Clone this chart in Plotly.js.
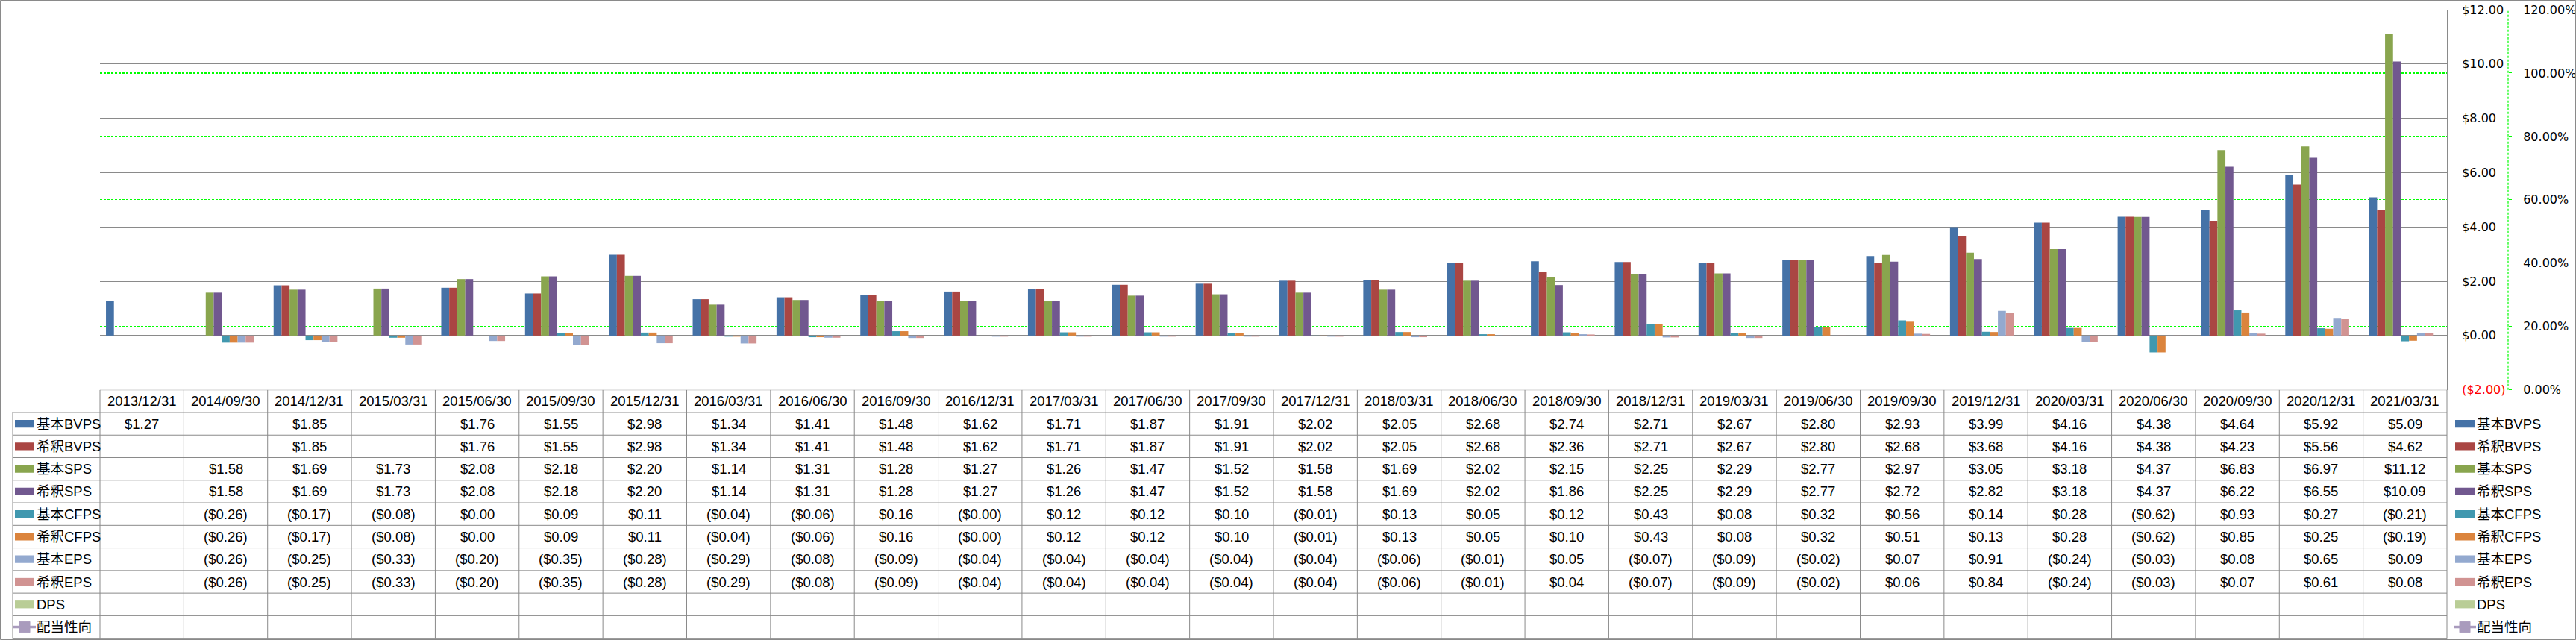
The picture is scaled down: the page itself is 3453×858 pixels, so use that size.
<!DOCTYPE html>
<html><head><meta charset="utf-8">
<script src="https://cdn.plot.ly/plotly-3.0.1.min.js"></script>
<style>html,body{margin:0;padding:0;background:#fff;overflow:hidden}#chart{width:3453px;height:858px}</style>
</head><body><div id="chart"></div>
<script>
// ---------------- data ----------------
const dates = ['2013/12/31','2014/09/30','2014/12/31','2015/03/31','2015/06/30','2015/09/30','2015/12/31','2016/03/31','2016/06/30','2016/09/30','2016/12/31','2017/03/31','2017/06/30','2017/09/30','2017/12/31','2018/03/31','2018/06/30','2018/09/30','2018/12/31','2019/03/31','2019/06/30','2019/09/30','2019/12/31','2020/03/31','2020/06/30','2020/09/30','2020/12/31','2021/03/31'];
const bvpsBasic   = [1.27,null,1.85,null,1.76,1.55,2.98,1.34,1.41,1.48,1.62,1.71,1.87,1.91,2.02,2.05,2.68,2.74,2.71,2.67,2.80,2.93,3.99,4.16,4.38,4.64,5.92,5.09];
const bvpsDiluted = [null,null,1.85,null,1.76,1.55,2.98,1.34,1.41,1.48,1.62,1.71,1.87,1.91,2.02,2.05,2.68,2.36,2.71,2.67,2.80,2.68,3.68,4.16,4.38,4.23,5.56,4.62];
const spsBasic    = [null,1.58,1.69,1.73,2.08,2.18,2.20,1.14,1.31,1.28,1.27,1.26,1.47,1.52,1.58,1.69,2.02,2.15,2.25,2.29,2.77,2.97,3.05,3.18,4.37,6.83,6.97,11.12];
const spsDiluted  = [null,1.58,1.69,1.73,2.08,2.18,2.20,1.14,1.31,1.28,1.27,1.26,1.47,1.52,1.58,1.69,2.02,1.86,2.25,2.29,2.77,2.72,2.82,3.18,4.37,6.22,6.55,10.09];
const cfpsBasic   = [null,-0.26,-0.17,-0.08,0.00,0.09,0.11,-0.04,-0.06,0.16,-0.001,0.12,0.12,0.10,-0.01,0.13,0.05,0.12,0.43,0.08,0.32,0.56,0.14,0.28,-0.62,0.93,0.27,-0.21];
const cfpsDiluted = [null,-0.26,-0.17,-0.08,0.00,0.09,0.11,-0.04,-0.06,0.16,-0.001,0.12,0.12,0.10,-0.01,0.13,0.05,0.10,0.43,0.08,0.32,0.51,0.13,0.28,-0.62,0.85,0.25,-0.19];
const epsBasic    = [null,-0.26,-0.25,-0.33,-0.20,-0.35,-0.28,-0.29,-0.08,-0.09,-0.04,-0.04,-0.04,-0.04,-0.04,-0.06,-0.01,0.05,-0.07,-0.09,-0.02,0.07,0.91,-0.24,-0.03,0.08,0.65,0.09];
const epsDiluted  = [null,-0.26,-0.25,-0.33,-0.20,-0.35,-0.28,-0.29,-0.08,-0.09,-0.04,-0.04,-0.04,-0.04,-0.04,-0.06,-0.01,0.04,-0.07,-0.09,-0.02,0.06,0.84,-0.24,-0.03,0.07,0.61,0.08];
const dps         = [null,null,null,null,null,null,null,null,null,null,null,null,null,null,null,null,null,null,null,null,null,null,null,null,null,null,null,null];
const payoutRatio = [null,null,null,null,null,null,null,null,null,null,null,null,null,null,null,null,null,null,null,null,null,null,null,null,null,null,null,null];
const seriesNames = ['基本BVPS','希釈BVPS','基本SPS','希釈SPS','基本CFPS','希釈CFPS','基本EPS','希釈EPS','DPS','配当性向'];
const yTickVals  = [-2,0,2,4,6,8,10,12];
const y2TickVals = [0,0.2,0.4,0.6,0.8,1.0,1.2];

// ---------------- styling / geometry ----------------
const colors = ['#4572A7','#AA4643','#89A54E','#71588F','#4198AF','#DB843D','#93A9CF','#D19392','#B9CD96','#A99BBD'];
const W = 3453, H = 858;
const M = {l:134, r:91, t:13, b:0};
const PW = W - M.l - M.r, PH = H - M.t - M.b;
const px2X = px => (px - M.l) / PW;
const px2Y = py => (H - M.b - py) / PH;
const xDomEnd = px2X(3280);
const tableTop = 522.7, rowH = 30.27;
const splitY = px2Y(tableTop);
const y3Max = (H - M.b - tableTop) / rowH;
const GRAY = '#8A8A8A';
const TFONT = {family:'Liberation Sans, Noto Sans CJK JP, sans-serif', size:18.5, color:'#000'};

const barSeries = [bvpsBasic,bvpsDiluted,spsBasic,spsDiluted,cfpsBasic,cfpsDiluted,epsBasic,epsDiluted,dps];
function fmtMoney(v){
  if(v === null || v === undefined) return '';
  const s = '$' + Math.abs(v).toFixed(2);
  return v < 0 ? '(' + s + ')' : s;
}

const traces = barSeries.map((vals,i)=>({
  type:'bar', name:seriesNames[i], x:dates, y:vals, xaxis:'x', yaxis:'y',
  marker:{color:colors[i], line:{width:0}}, showlegend:false
}));
traces.push({
  type:'scatter', mode:'lines+markers', name:seriesNames[9], x:dates, y:payoutRatio,
  xaxis:'x', yaxis:'y2', line:{color:colors[9], width:3},
  marker:{symbol:'square', size:10, color:colors[9]}, showlegend:false
});

// ---------------- table ----------------
const shapes = [];
const annotations = [];
// outer chart border
shapes.push({type:'rect', xref:'paper', yref:'paper', x0:px2X(0.5), x1:px2X(W-0.5), y0:px2Y(H-0.5), y1:px2Y(0.5), line:{color:GRAY, width:1}, fillcolor:'rgba(0,0,0,0)'});
// horizontal table lines
for(let k=0;k<=11;k++){
  shapes.push({type:'line', xref:'paper', yref:'y3', x0:(k===0?0:px2X(17)), x1:xDomEnd, y0:k, y1:k, line:{color:GRAY, width:1}});
}
// vertical table lines
shapes.push({type:'line', xref:'paper', yref:'y3', x0:0, x1:0, y0:0, y1:11, line:{color:GRAY, width:1}});
shapes.push({type:'line', xref:'paper', yref:'y3', x0:xDomEnd, x1:xDomEnd, y0:0, y1:11, line:{color:GRAY, width:1}});
shapes.push({type:'line', xref:'paper', yref:'y3', x0:px2X(17), x1:px2X(17), y0:1, y1:11, line:{color:GRAY, width:1}});
for(let i=1;i<dates.length;i++){
  shapes.push({type:'line', xref:'x', yref:'y3', x0:i-0.5, x1:i-0.5, y0:0, y1:11, line:{color:GRAY, width:1}});
}
// header + values
dates.forEach((d,i)=>{
  annotations.push({xref:'x', yref:'y3', x:d, y:0.5, text:d, showarrow:false, font:TFONT, xanchor:'center', yanchor:'middle'});
  barSeries.forEach((vals,r)=>{
    const t = fmtMoney(vals[i]);
    if(t) annotations.push({xref:'x', yref:'y3', x:d, y:r+1.5, text:t, showarrow:false, font:TFONT, xanchor:'center', yanchor:'middle'});
  });
});
// legend keys (table left column and right legend)
function addKey(pxKeyL, pxTextL, r){
  const yc = r + 1.5;
  if(r < 9){
    shapes.push({type:'rect', xref:'paper', yref:'y3', x0:px2X(pxKeyL), x1:px2X(pxKeyL+26), y0:yc-0.17, y1:yc+0.17, fillcolor:colors[r], line:{width:0}});
  } else {
    shapes.push({type:'line', xref:'paper', yref:'y3', x0:px2X(pxKeyL-2), x1:px2X(pxKeyL+28), y0:yc, y1:yc, line:{color:colors[r], width:3.5}});
    shapes.push({type:'rect', xref:'paper', yref:'y3', x0:px2X(pxKeyL+6), x1:px2X(pxKeyL+20), y0:yc-0.24, y1:yc+0.24, fillcolor:colors[r], line:{color:colors[r], width:1}});
  }
  annotations.push({xref:'paper', yref:'y3', x:px2X(pxTextL), y:yc, text:seriesNames[r], showarrow:false, font:TFONT, xanchor:'left', yanchor:'middle'});
}
seriesNames.forEach((n,r)=>{ addKey(20, 47, r); addKey(3291, 3318, r); });

const layout = {
  width:W, height:H, margin:M, paper_bgcolor:'#fff', plot_bgcolor:'rgba(0,0,0,0)',
  showlegend:false, barmode:'group', bargap:1.5/10.5, bargroupgap:0,
  xaxis:{domain:[0,xDomEnd], type:'category', categoryorder:'array', categoryarray:dates,
    range:[-0.5, dates.length-0.5], showgrid:false, showticklabels:false, ticks:'', showline:false, zeroline:false, fixedrange:true},
  yaxis:{domain:[splitY,1], anchor:'x', side:'right', range:[-2,12], tickmode:'array', tickvals:yTickVals,
    ticktext:yTickVals.map(v => v<0 ? '<span style="color:#FF0000">'+fmtMoney(v)+'</span>' : fmtMoney(v)),
    showgrid:true, gridcolor:GRAY, gridwidth:1, zeroline:true, zerolinecolor:GRAY, zerolinewidth:1,
    showline:true, linecolor:GRAY, linewidth:1, ticks:'', ticklabelstandoff:16,
    tickfont:{family:'DejaVu Sans, sans-serif', size:16, color:'#000'}, fixedrange:true},
  yaxis2:{overlaying:'y', anchor:'free', position:1, side:'right', range:[0,1.2], tickmode:'array', tickvals:y2TickVals,
    tickformat:'.2%', showgrid:false, zeroline:false, showline:false,
    ticks:'outside', ticklen:4, tickwidth:1, tickcolor:'#00FF00', ticklabelstandoff:12,
    minor:{tickmode:'array', tickvals:y2TickVals.slice(1,-1), showgrid:true, gridcolor:'#00FF00', gridwidth:1.2, griddash:'3px,2px', ticks:''},
    tickfont:{family:'DejaVu Sans, sans-serif', size:16, color:'#000'}, fixedrange:true},
  yaxis3:{domain:[0,splitY], anchor:'x', range:[y3Max,0], showgrid:false, zeroline:false, showticklabels:false, ticks:'', showline:false, fixedrange:true},
  shapes:shapes.concat([
    {type:'line', xref:'paper', yref:'y domain', x0:1, x1:1, y0:0, y1:1, line:{color:'#00FF00', width:1.2, dash:'3px,2px'}}
  ]),
  annotations:annotations
};
Plotly.newPlot('chart', traces, layout, {staticPlot:true, displayModeBar:false});
</script></body></html>
